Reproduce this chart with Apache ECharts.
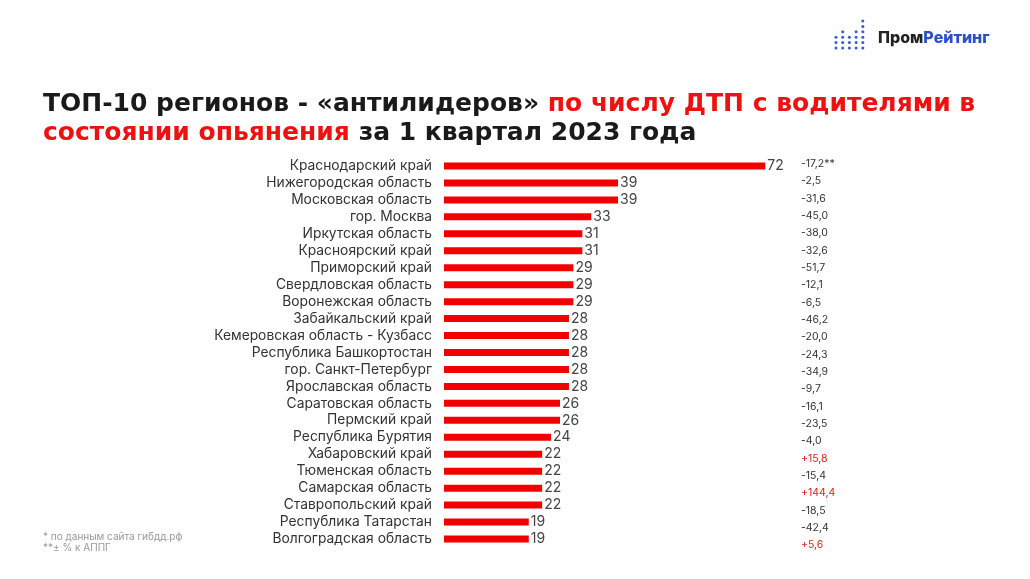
<!DOCTYPE html>
<html><head><meta charset="utf-8">
<script src="https://cdn.jsdelivr.net/npm/echarts@6/dist/echarts.min.js"></script>
<style>html,body{margin:0;padding:0;background:#fff}#c{width:1030px;height:579px}</style>
</head><body><div id="c"></div>
<script>
const regions = ["Краснодарский край","Нижегородская область","Московская область","гор. Москва","Иркутская область","Красноярский край","Приморский край","Свердловская область","Воронежская область","Забайкальский край","Кемеровская область - Кузбасс","Республика Башкортостан","гор. Санкт-Петербург","Ярославская область","Саратовская область","Пермский край","Республика Бурятия","Хабаровский край","Тюменская область","Самарская область","Ставропольский край","Республика Татарстан","Волгоградская область"];
const accidents = [72,39,39,33,31,31,29,29,29,28,28,28,28,28,26,26,24,22,22,22,22,19,19];
const changes = ["-17,2**","-2,5","-31,6","-45,0","-38,0","-32,6","-51,7","-12,1","-6,5","-46,2","-20,0","-24,3","-34,9","-9,7","-16,1","-23,5","-4,0","+15,8","-15,4","+144,4","-18,5","-42,4","+5,6"];

const chart = echarts.init(document.getElementById('c'));
const font = "Inter";
const tfont = "DejaVu Sans";
// logo dots (decoration)
const colTops = [37,31,37,31,21];
const dots = [];
colTops.forEach((top,i)=>{for(let y=48;y>=top-0.5;y-=5.4){dots.push({type:'circle',shape:{cx:836+i*6.7,cy:y,r:1.5},style:{fill:'#3a5bd5'}});}});
chart.setOption({
  animation:false,
  title:{
    left:38, top:85,
    text:"{b|ТОП-10 регионов - «антилидеров» }{r|по числу ДТП с водителями в}\n{r|состоянии опьянения}{b| за 1 квартал 2023 года}",
    textStyle:{
      rich:{
        b:{fontFamily:tfont,fontWeight:'bold',fontSize:25,color:'#1a1a1a',lineHeight:29},
        r:{fontFamily:tfont,fontWeight:'bold',fontSize:25,color:'#ee1111',lineHeight:29}
      }
    }
  },
  graphic:[
    ...dots,
    {type:'text',left:878,top:30,style:{text:'{a|Пром}{b|Рейтинг}',rich:{a:{fontFamily:font,fontWeight:800,fontSize:16,fill:'#222'},b:{fontFamily:font,fontWeight:800,fontSize:16,fill:'#2b4fc7'}}}},
    {type:'text',left:43,top:531,style:{text:'* по данным сайта гибдд.рф\n**± % к АППГ',fontFamily:font,fontSize:10,lineHeight:11,fill:'#999'}}
  ],
  grid:[
    {left:444,top:157.5,width:357,height:390,containLabel:false},
    {left:444,top:155.3,width:357,height:398.4,containLabel:false}
  ],
  xAxis:[
    {type:'value',min:0,max:80,show:false,gridIndex:0},
    {type:'value',min:0,max:80,show:false,gridIndex:1}
  ],
  yAxis:[
    {type:'category',gridIndex:0,inverse:true,data:regions,axisLine:{show:false},axisTick:{show:false},
     axisLabel:{interval:0,fontFamily:font,fontSize:13.8,color:'#333',margin:12}},
    {type:'category',gridIndex:1,inverse:true,position:'right',data:changes,axisLine:{show:false},axisTick:{show:false},
     axisLabel:{interval:0,fontFamily:font,fontSize:10.5,margin:0,
       formatter:v=>v.startsWith('+')?'{p|'+v+'}':'{m|'+v+'}',
       rich:{p:{color:'#e02020',fontSize:10.5,fontFamily:font},m:{color:'#333',fontSize:10.5,fontFamily:font}}}}
  ],
  series:[{
    type:'bar',data:accidents,barWidth:7,itemStyle:{color:'#f20000'},xAxisIndex:0,yAxisIndex:0,
    label:{show:true,position:'right',distance:2,fontFamily:font,fontSize:14,color:'#444'}
  }]
});
</script></body></html>
